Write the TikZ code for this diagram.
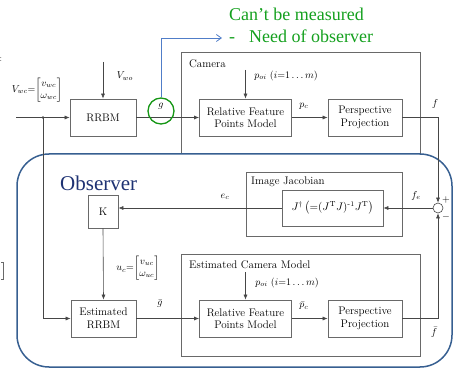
\documentclass[tikz,border=0pt]{standalone}
\usepackage{amsmath}
\usepackage{fontspec}
\newfontfamily\timesf{Liberation Serif}
\usetikzlibrary{arrows.meta}
\definecolor{lnc}{RGB}{70,70,70}
\definecolor{bxc}{RGB}{105,105,105}
\definecolor{grn}{RGB}{20,160,30}
\definecolor{gcirc}{RGB}{20,150,20}
\definecolor{blu}{RGB}{80,125,200}
\definecolor{obs}{RGB}{55,95,145}
\definecolor{obstxt}{RGB}{30,50,115}
\tikzset{
  blk/.style={draw=bxc, line width=0.7pt, minimum height=37pt, align=center, inner sep=1pt, font=\fontsize{11}{12.5}\selectfont},
  frame/.style={draw=bxc, line width=0.7pt, inner sep=0pt},
  conn/.style={draw=lnc, line width=0.6pt},
  arr/.style={conn, -{Latex[length=5pt,width=4pt]}},
  lab/.style={font=\fontsize{10}{12}\selectfont, inner sep=1pt},
}
\begin{document}
\begin{tikzpicture}[x=1pt, y=-1pt]
\useasboundingbox (0,0) rectangle (456,369);
% top green notes
\node[anchor=base west, text=grn, font=\timesf\fontsize{18}{20}\selectfont, inner sep=0pt] (note1) at (229,21) {Can’t be measured};
\node[anchor=base west, text=grn, font=\timesf\fontsize{18}{20}\selectfont, inner sep=0pt] (note2) at (229,43) {-\hspace{14pt}Need of observer};
% frames
\node[frame, minimum width=239pt, minimum height=101pt] (camera) at (300.5,102.5) {};
\node[anchor=west, inner sep=0pt, font=\fontsize{11}{12}\selectfont] (camlab) at (189,64) {Camera};
\node[frame, minimum width=239pt, minimum height=102pt] (ecam) at (300.5,305) {};
\node[anchor=west, inner sep=0pt, font=\fontsize{11}{12}\selectfont] (ecamlab) at (189,265) {Estimated Camera Model};
% observer rounded frame
\draw[draw=obs, line width=1.5pt, rounded corners=32pt] (17,154) rectangle (452,367);
\node[anchor=base west, text=obstxt, font=\timesf\fontsize{21}{23}\selectfont, inner sep=0pt] (obslab) at (60,190) {Observer};
% image jacobian
\node[frame, minimum width=156pt, minimum height=64pt] (ij) at (324,204) {};
\node[anchor=west, inner sep=0pt, font=\fontsize{11}{12}\selectfont] (ijlab) at (251,182) {Image Jacobian};
\node[blk, minimum width=101pt, minimum height=36pt, font=\fontsize{10.5}{12}\selectfont] (jbox) at (332.5,208) {$J^{\dagger}\,\bigl({=}(J^{\mathrm{T}}J)^{\text{-}1}J^{\mathrm{T}}\bigr)$};
% blocks
\node[blk, minimum width=66pt] (rrbm) at (103,117.5) {RRBM};
\node[blk, minimum width=92pt] (rfp) at (245.5,117.5) {Relative Feature\\Points Model};
\node[blk, minimum width=74pt] (pp) at (365,117.5) {Perspective\\Projection};
\node[blk, minimum width=30pt, minimum height=33pt] (K) at (103,211.5) {K};
\node[blk, minimum width=65pt] (ermb) at (103.5,318.5) {Estimated\\RRBM};
\node[blk, minimum width=92pt] (erfp) at (245.5,318.5) {Relative Feature\\Points Model};
\node[blk, minimum width=74pt] (epp) at (365,318.5) {Perspective\\Projection};
% summing junction and circle
\node[circle, draw=lnc, fill=white, line width=0.6pt, minimum size=10pt, inner sep=0pt] (sum) at (438,208) {};
\coordinate (start) at (16,117.5);
\coordinate (jn) at (43,117.5);
\coordinate (vwo) at (103,62);
\coordinate (poi) at (245.5,70);
\coordinate (epoi) at (245.5,272);
\coordinate (bl) at (222,38);
% connectors
\draw[arr] (start) -- (rrbm.west);
\fill[lnc] (jn) circle (1.3pt);
\draw[arr] (vwo) -- (rrbm.north);
\draw[arr] (rrbm.east) -- (rfp.west);
\draw[arr] (poi) -- (rfp.north);
\draw[arr] (rfp.east) -- (pp.west);
\draw[arr] (pp.east) -| (sum.north);
\draw[arr] (epp.east) -| (sum.south);
\draw[arr] (sum.west) -- (jbox.east);
\draw[arr] (jbox.west) -- (jbox.west -| K.east);
\draw[arr] (K.south) -- (ermb.north);
\draw[arr] (jn) |- (ermb.west);
\draw[arr] (ermb.east) -- (erfp.west);
\draw[arr] (epoi) -- (erfp.north);
\draw[arr] (erfp.east) -- (epp.west);
% g circle and blue arrow
\node[circle, draw=gcirc, line width=1.3pt, minimum size=26pt, inner sep=0pt] (gc) at (161,111) {};
\node[lab] (glab) at (161,106) {$g$};
\draw[draw=blu, line width=0.8pt, -{Straight Barb[length=5pt,width=7pt]}] (gc.north) |- (bl);
% labels
\node[lab] (vwc) at (37,90) {$V_{wc}{=}\!\begin{bmatrix} v_{wc}\\ \omega_{wc}\end{bmatrix}$};
\node[lab] (vwolab) at (125,76) {$V_{wo}$};
\node[lab] (poilab) at (286,76) {$p_{oi}\ (i{=}1\ldots m)$};
\node[lab] (pclab) at (304,106) {$p_c$};
\node[lab] (flab) at (435,104) {$f$};
\node[lab] (felab) at (416,196) {$f_e$};
\node[lab] (plus) at (446,200) {$+$};
\node[lab] (minus) at (446,217) {$-$};
\node[lab] (eclab) at (225,197) {$e_c$};
\node[lab] (uclab) at (138,268) {$u_c{=}\!\begin{bmatrix} v_{uc}\\ \omega_{uc}\end{bmatrix}$};
\node[lab] (gbar) at (160,304) {$\bar{g}$};
\node[lab] (epoilab) at (287,283) {$p_{oi}\ (i{=}1\ldots m)$};
\node[lab] (pcbar) at (304,306) {$\bar{p}_c$};
\node[lab] (fbar) at (434,332) {$\bar{f}$};
% edge remnants
\node[inner sep=0pt, font=\small] (colon) at (1,60) {:};
\draw[draw=bxc, line width=0.6pt] (1,262) -- (3.5,262) -- (3.5,279) -- (1,279);
\end{tikzpicture}
\end{document}
